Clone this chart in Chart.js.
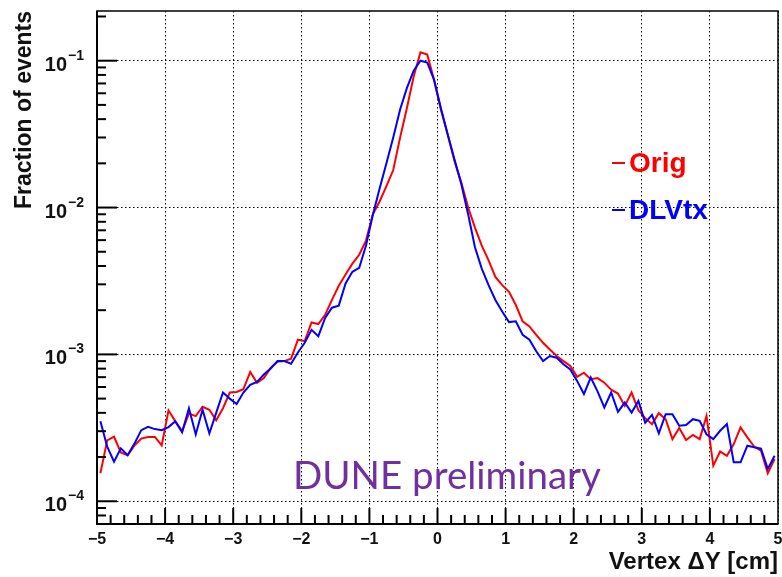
<!DOCTYPE html>
<html>
<head>
<meta charset="utf-8">
<script src="https://cdn.jsdelivr.net/npm/chart.js@4.4.1/dist/chart.umd.min.js"></script>
<style>
  html, body { margin: 0; padding: 0; background: #fff; }
  #wrap { width: 782px; height: 577px; }
</style>
</head>
<body>
<div id="wrap"><canvas id="dyChart" width="782" height="577"></canvas></div>
<script>
// vertex ΔY histogram, 100 bins from -5 to 5 cm (bin centres)
const binCenters = [
  -4.95, -4.85, -4.75, -4.65, -4.55, -4.45, -4.35, -4.25, -4.15, -4.05,
  -3.95, -3.85, -3.75, -3.65, -3.55, -3.45, -3.35, -3.25, -3.15, -3.05,
  -2.95, -2.85, -2.75, -2.65, -2.55, -2.45, -2.35, -2.25, -2.15, -2.05,
  -1.95, -1.85, -1.75, -1.65, -1.55, -1.45, -1.35, -1.25, -1.15, -1.05,
  -0.95, -0.85, -0.75, -0.65, -0.55, -0.45, -0.35, -0.25, -0.15, -0.05,
  0.05, 0.15, 0.25, 0.35, 0.45, 0.55, 0.65, 0.75, 0.85, 0.95,
  1.05, 1.15, 1.25, 1.35, 1.45, 1.55, 1.65, 1.75, 1.85, 1.95,
  2.05, 2.15, 2.25, 2.35, 2.45, 2.55, 2.65, 2.75, 2.85, 2.95,
  3.05, 3.15, 3.25, 3.35, 3.45, 3.55, 3.65, 3.75, 3.85, 3.95,
  4.05, 4.15, 4.25, 4.35, 4.45, 4.55, 4.65, 4.75, 4.85, 4.95
];

// fraction of events per bin, original reconstruction
const origFrac = [
  1.55e-4, 2.6e-4, 2.75e-4, 2.15e-4, 2.06e-4, 2.4e-4, 2.67e-4, 2.74e-4, 2.74e-4, 2.4e-4,
  4.16e-4, 3.5e-4, 3.0e-4, 3.95e-4, 3.8e-4, 4.4e-4, 4.2e-4, 3.56e-4, 4.3e-4, 5.5e-4,
  5.55e-4, 5.8e-4, 7.6e-4, 6.4e-4, 6.9e-4, 8.1e-4, 8.9e-4, 9.0e-4, 9.35e-4, 1.26e-3,
  1.23e-3, 1.65e-3, 1.61e-3, 1.86e-3, 2.35e-3, 2.93e-3, 3.5e-3, 4.15e-3, 4.77e-3, 5.96e-3,
  9.0e-3, 1.1e-2, 1.4e-2, 1.8e-2, 2.98e-2, 4.75e-2, 7.8e-2, 0.114, 0.110, 7.4e-2,
  4.64e-2, 3.14e-2, 2.07e-2, 1.48e-2, 1.0e-2, 7.3e-3, 5.5e-3, 4.37e-3, 3.37e-3, 2.96e-3,
  2.67e-3, 2.17e-3, 1.68e-3, 1.55e-3, 1.36e-3, 1.2e-3, 1.08e-3, 9.75e-4, 9.0e-4, 8.35e-4,
  7.03e-4, 7.5e-4, 6.78e-4, 6.9e-4, 6.42e-4, 5.75e-4, 5.41e-4, 4.46e-4, 5.5e-4, 4.17e-4,
  3.68e-4, 3.35e-4, 3.98e-4, 3.62e-4, 2.65e-4, 3.15e-4, 2.61e-4, 2.83e-4, 2.65e-4, 3.81e-4,
  1.75e-4, 2.18e-4, 2.04e-4, 2.45e-4, 3.18e-4, 2.72e-4, 2.36e-4, 2.21e-4, 1.55e-4, 1.94e-4
];

// fraction of events per bin, DL vertexing
const dlvtxFrac = [
  3.5e-4, 2.35e-4, 1.86e-4, 2.29e-4, 2.06e-4, 2.47e-4, 3.05e-4, 3.21e-4, 3.1e-4, 3.05e-4,
  3.2e-4, 3.5e-4, 2.95e-4, 4.3e-4, 2.85e-4, 4.2e-4, 2.9e-4, 4.0e-4, 5.5e-4, 5.0e-4,
  4.6e-4, 5.5e-4, 6.2e-4, 6.5e-4, 7.3e-4, 8.0e-4, 9.0e-4, 9.0e-4, 8.65e-4, 1.03e-3,
  1.2e-3, 1.47e-3, 1.33e-3, 1.77e-3, 2.08e-3, 2.15e-3, 3.04e-3, 3.65e-3, 3.88e-3, 5.52e-3,
  8.9e-3, 1.35e-2, 2.0e-2, 3.0e-2, 4.64e-2, 6.5e-2, 8.55e-2, 0.100, 0.097, 7.4e-2,
  4.75e-2, 3.14e-2, 2.12e-2, 1.44e-2, 9.0e-3, 5.37e-3, 3.84e-3, 2.96e-3, 2.35e-3, 1.96e-3,
  1.66e-3, 1.68e-3, 1.36e-3, 1.26e-3, 1.05e-3, 9.0e-4, 9.75e-4, 9.5e-4, 8.56e-4, 7.9e-4,
  6.6e-4, 5.37e-4, 6.96e-4, 5.6e-4, 4.35e-4, 5.5e-4, 4.06e-4, 4.7e-4, 4.02e-4, 4.82e-4,
  3.43e-4, 3.87e-4, 2.9e-4, 3.92e-4, 3.92e-4, 3.27e-4, 3.3e-4, 3.62e-4, 3.53e-4, 2.86e-4,
  2.65e-4, 3.02e-4, 3.35e-4, 1.84e-4, 1.84e-4, 2.39e-4, 2.33e-4, 2.28e-4, 1.66e-4, 2.04e-4
];

// decade ticks on the log axis and their exponents
const yDecades = [1e-4, 1e-3, 1e-2, 1e-1];
const yExponents = ['\u22124', '\u22123', '\u22122', '\u22121'];

const FONT = '"Liberation Sans", Arial, sans-serif';

// ROOT-style frame: inward ticks, superscript decade labels, legend and the stamp
const rootFrame = {
  id: 'rootFrame',
  afterDraw(chart) {
    const { ctx, chartArea: a, scales: { x, y } } = chart;
    ctx.save();
    ctx.strokeStyle = '#000';
    ctx.lineWidth = 2;

    // x ticks: major every 1, minor every 0.2
    for (let i = 1; i < 50; i++) {
      const px = x.getPixelForValue(-5 + i * 0.2);
      const len = i % 5 === 0 ? 16 : 9;
      ctx.beginPath();
      ctx.moveTo(px, a.bottom);
      ctx.lineTo(px, a.bottom - len);
      ctx.stroke();
    }

    // y ticks: 1..9 x 10^k
    for (let k = -5; k <= 0; k++) {
      for (let m = 1; m <= 9; m++) {
        const v = m * Math.pow(10, k);
        if (v <= y.min || v >= y.max) continue;
        const py = y.getPixelForValue(v);
        ctx.beginPath();
        ctx.moveTo(a.left, py);
        ctx.lineTo(a.left + (m === 1 ? 20 : 9), py);
        ctx.stroke();
      }
    }

    // frame
    ctx.lineWidth = 1.5;
    ctx.strokeRect(a.left, a.top, a.right - a.left, a.bottom - a.top);
    ctx.lineWidth = 2;
    ctx.beginPath();
    ctx.moveTo(a.left, a.top);
    ctx.lineTo(a.left, a.bottom);
    ctx.lineTo(a.right, a.bottom);
    ctx.stroke();

    // decade labels 10^k
    ctx.fillStyle = '#111';
    yDecades.forEach((v, i) => {
      const py = y.getPixelForValue(v);
      ctx.font = 'bold 20px ' + FONT;
      ctx.textAlign = 'right';
      ctx.textBaseline = 'alphabetic';
      ctx.fillText('10', a.left - 30, py + 10);
      ctx.font = 'bold 14px ' + FONT;
      ctx.textAlign = 'left';
      ctx.fillText(yExponents[i], a.left - 29, py - 1);
    });

    // legend
    const legendY = [163, 210];
    chart.data.datasets.forEach((ds, i) => {
      ctx.strokeStyle = ds.borderColor;
      ctx.lineWidth = 2;
      ctx.beginPath();
      ctx.moveTo(612, legendY[i]);
      ctx.lineTo(625, legendY[i]);
      ctx.stroke();
      ctx.fillStyle = ds.borderColor;
      ctx.font = 'bold 28px ' + FONT;
      ctx.textAlign = 'left';
      ctx.textBaseline = 'middle';
      ctx.fillText(ds.label, 629, legendY[i] + 1);
    });

    // preliminary stamp
    ctx.fillStyle = '#7030A0';
    ctx.font = '38.5px Lato, "Open Sans", sans-serif';
    ctx.textAlign = 'left';
    ctx.textBaseline = 'alphabetic';
    ctx.fillText('DUNE preliminary', 293, 489);

    ctx.restore();
  }
};

new Chart(document.getElementById('dyChart'), {
  type: 'line',
  data: {
    datasets: [
      {
        label: 'Orig',
        data: binCenters.map((c, i) => ({ x: c, y: origFrac[i] })),
        borderColor: '#ff0000',
        borderWidth: 2,
        pointRadius: 0,
        tension: 0,
        order: 1
      },
      {
        label: 'DLVtx',
        data: binCenters.map((c, i) => ({ x: c, y: dlvtxFrac[i] })),
        borderColor: '#0000ff',
        borderWidth: 2,
        pointRadius: 0,
        tension: 0,
        order: 0
      }
    ]
  },
  options: {
    responsive: false,
    animation: false,
    layout: { padding: { top: 11, right: 4, left: 0, bottom: 0 } },
    plugins: { legend: { display: false }, tooltip: { enabled: false } },
    scales: {
      x: {
        type: 'linear',
        min: -5,
        max: 5,
        afterFit(scale) {
          scale.height = 53;
          scale.paddingLeft = 0;
          scale.paddingRight = 0;
        },
        ticks: {
          stepSize: 1,
          padding: 6,
          color: '#111',
          font: { family: FONT, size: 16, weight: 'bold' },
          callback: v => (v < 0 ? '\u2212' + Math.abs(v) : String(v))
        },
        grid: { color: '#000', lineWidth: 1, drawTicks: false },
        border: { display: false, dash: [1.5, 2.5] },
        title: {
          display: true,
          text: 'Vertex \u0394Y [cm]',
          align: 'end',
          color: '#111',
          font: { family: FONT, size: 24, weight: 'bold' },
          padding: { top: 0, bottom: 0 }
        }
      },
      y: {
        type: 'logarithmic',
        min: 7.2e-5,
        max: 0.218,
        afterFit(scale) { scale.width = 97; },
        afterBuildTicks(scale) { scale.ticks = yDecades.map(v => ({ value: v })); },
        ticks: { display: false },
        grid: { color: '#000', lineWidth: 1, drawTicks: false },
        border: { display: false, dash: [1.5, 2.5] },
        title: {
          display: true,
          text: 'Fraction of events',
          align: 'end',
          color: '#111',
          font: { family: FONT, size: 23, weight: 'bold' },
          padding: { top: 11, bottom: 0 }
        }
      }
    }
  },
  plugins: [rootFrame]
});
</script>
</body>
</html>
